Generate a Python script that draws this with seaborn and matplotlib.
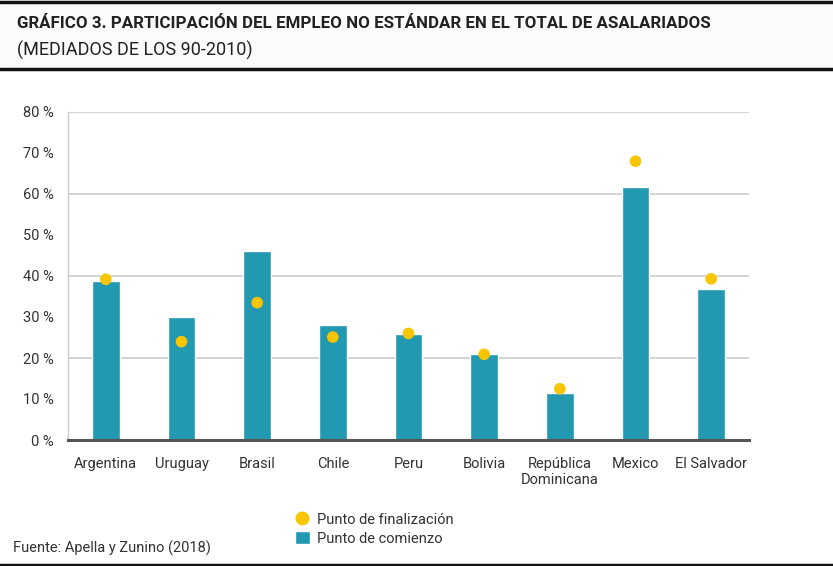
import pandas as pd
import matplotlib
matplotlib.use('Agg')
import matplotlib.pyplot as plt
import seaborn as sns
from matplotlib.lines import Line2D
from matplotlib.patches import Patch

paises = ['Argentina', 'Uruguay', 'Brasil', 'Chile', 'Peru', 'Bolivia',
          'República\nDominicana', 'Mexico', 'El Salvador']
comienzo = [38.7, 30.1, 46.0, 28.0, 25.9, 21.0, 11.4, 61.6, 36.9]
finalizacion = [39.2, 24.0, 33.5, 25.1, 26.0, 20.9, 12.5, 68.0, 39.3]
yticks = [0, 10, 20, 30, 40, 50, 60, 70, 80]

df = pd.DataFrame({'pais': paises, 'comienzo': comienzo, 'final': finalizacion})

sns.set_style('white')
plt.rcParams['font.family'] = ['Roboto', 'DejaVu Sans']

azul = '#2398b1'
amarillo = '#f7c600'
gris = '#333333'

fig = plt.figure(figsize=(8.33, 5.66), dpi=100)
ax = fig.add_axes([68/833, 1-440/566, (749-68)/833, (440-112)/566])

sns.barplot(data=df, x='pais', y='comienzo', color=azul, width=0.37,
            saturation=1, ax=ax, zorder=2)
sns.scatterplot(data=df, x='pais', y='final', color=amarillo, s=70,
                edgecolor='none', ax=ax, zorder=3)

ax.set_ylim(0, 80)
ax.set_xlim(-0.5, len(paises) - 0.5)
ax.set_yticks(yticks)
ax.set_yticklabels([f'{v} %' for v in yticks])
for v in [20, 40, 60, 80]:
    ax.axhline(v, color='#cccccc', lw=1.2, zorder=1)
ax.set_xlabel('')
ax.set_ylabel('')
ax.tick_params(axis='both', length=0, labelsize=10.5, colors=gris)
ax.tick_params(axis='y', pad=10)
ax.tick_params(axis='x', pad=12)
for s in ['top', 'right']:
    ax.spines[s].set_visible(False)
ax.spines['left'].set_color('#c8c8c8')
ax.spines['left'].set_linewidth(1.0)
ax.spines['bottom'].set_color('#555555')
ax.spines['bottom'].set_linewidth(2.2)

# header band
fig.patches.append(plt.Rectangle((0, 1-69/566), 1, 67/566, transform=fig.transFigure,
                                 facecolor='#fbfbfb', edgecolor='none', zorder=0))
fig.add_artist(Line2D([0, 1], [1-1.5/566, 1-1.5/566], color='#111111', lw=2.5))
fig.add_artist(Line2D([0, 1], [1-69/566, 1-69/566], color='#111111', lw=2.5))
fig.add_artist(Line2D([0, 1], [1.5/566, 1.5/566], color='#111111', lw=2.5))

titulo = fig.text(17/833, 1-24/566, 'GRÁFICO 3. PARTICIPACIÓN DEL EMPLEO NO ESTÁNDAR EN EL TOTAL DE ASALARIADOS',
                  fontsize=14, fontweight='bold', color='#222222', va='center')
# fit title width to the reference (about 694 px)
r = fig.canvas.get_renderer()
w = titulo.get_window_extent(r).width
titulo.set_fontsize(14 * 694 / w)

fig.text(17/833, 1-50/566, '(MEDIADOS DE LOS 90-2010)',
         fontsize=13, color='#222222', va='center')
fig.text(13/833, 1-548/566, 'Fuente: Apella y Zunino (2018)',
         fontsize=10.5, color=gris, va='center')

handles = [Line2D([], [], marker='o', ls='', color=amarillo, markersize=9),
           Patch(facecolor=azul)]
fig.legend(handles, ['Punto de finalización', 'Punto de comienzo'],
           loc='center left', bbox_to_anchor=(282/833, 1-529/566), frameon=False,
           fontsize=10.5, labelcolor=gris, handlelength=1.0, handleheight=1.0,
           handletextpad=0.5, labelspacing=0.3)

fig.savefig('out.png', dpi=100)
